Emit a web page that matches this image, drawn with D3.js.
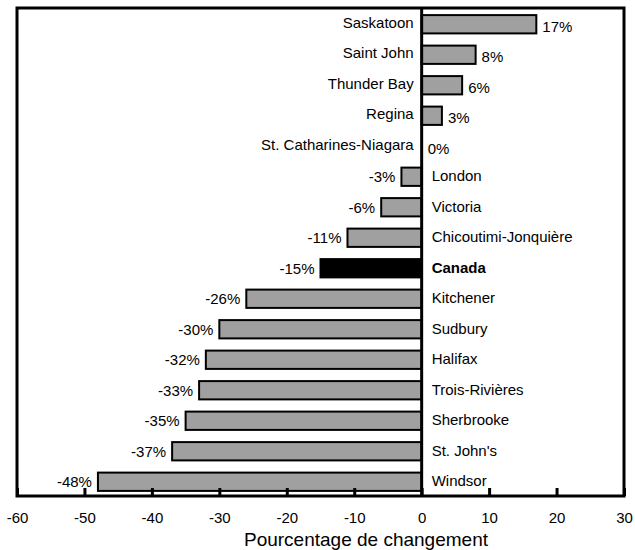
<!DOCTYPE html>
<html>
<head>
<meta charset="utf-8">
<script src="https://cdn.jsdelivr.net/npm/d3@7"></script>
<style>
  html, body { margin: 0; padding: 0; background: #fff; }
  svg { display: block; font-family: "Liberation Sans", Arial, sans-serif; }
</style>
</head>
<body>
<svg id="chart" width="635" height="550"></svg>
<script>
// Population change by census metropolitan area (percent)
const categories = [
  "Saskatoon", "Saint John", "Thunder Bay", "Regina", "St. Catharines-Niagara",
  "London", "Victoria", "Chicoutimi-Jonquière", "Canada", "Kitchener",
  "Sudbury", "Halifax", "Trois-Rivières", "Sherbrooke", "St. John's", "Windsor"
];
const values = [17, 8, 6, 3, 0, -3, -6, -11, -15, -26, -30, -32, -33, -35, -37, -48];
const highlight = "Canada";
const xTicks = [-60, -50, -40, -30, -20, -10, 0, 10, 20, 30];
const xTitle = "Pourcentage de changement";

const data = categories.map((c, i) => ({ name: c, value: values[i] }));

const plot = { left: 17, right: 624, top: 8, bottom: 496 };

const svg = d3.select("#chart");

const x = d3.scaleLinear().domain([-60, 30]).range([plot.left, plot.right]);
const y = d3.scaleBand()
  .domain(categories)
  .range([plot.top + 1, plot.bottom + 1])
  .paddingInner(0.4)
  .paddingOuter(0.2);

const x0 = x(0);

// bars
svg.append("g")
  .selectAll("rect")
  .data(data)
  .join("rect")
  .attr("x", d => x(Math.min(0, d.value)))
  .attr("y", d => y(d.name))
  .attr("width", d => Math.abs(x(d.value) - x0))
  .attr("height", y.bandwidth())
  .attr("fill", d => d.name === highlight ? "#000" : "#a0a0a0")
  .attr("stroke", "#000")
  .attr("stroke-width", 2);

// value labels at the bar ends
svg.append("g")
  .selectAll("text")
  .data(data)
  .join("text")
  .attr("x", d => d.value >= 0 ? x(d.value) + 6 : x(d.value) - 6)
  .attr("y", d => y(d.name) + y.bandwidth() / 2 + (d.value >= 0 ? 2 : 0))
  .attr("dy", "0.35em")
  .attr("text-anchor", d => d.value >= 0 ? "start" : "end")
  .attr("font-size", 15)
  .attr("fill", "#000")
  .text(d => d.value + "%");

// category labels on the opposite side of the zero line
svg.append("g")
  .selectAll("text")
  .data(data)
  .join("text")
  .attr("x", d => d.value >= 0 ? x0 - 8 : x0 + 10)
  .attr("y", d => y(d.name) + y.bandwidth() / 2 + (d.value >= 0 ? -2 : -1))
  .attr("dy", "0.35em")
  .attr("text-anchor", d => d.value >= 0 ? "end" : "start")
  .attr("font-size", 15)
  .attr("font-weight", d => d.name === highlight ? "bold" : "normal")
  .attr("fill", "#000")
  .text(d => d.name);

// zero line
svg.append("line")
  .attr("x1", x0).attr("x2", x0)
  .attr("y1", plot.top).attr("y2", plot.bottom)
  .attr("stroke", "#000")
  .attr("stroke-width", 3);

// plot frame
svg.append("rect")
  .attr("x", plot.left)
  .attr("y", plot.top)
  .attr("width", plot.right - plot.left)
  .attr("height", plot.bottom - plot.top)
  .attr("fill", "none")
  .attr("stroke", "#000")
  .attr("stroke-width", 3);

// x axis with inward ticks
const xAxis = d3.axisBottom(x)
  .tickValues(xTicks)
  .tickFormat(d => String(d))
  .tickSizeInner(-8)
  .tickSizeOuter(0)
  .tickPadding(16);

const gx = svg.append("g")
  .attr("transform", `translate(0,${plot.bottom})`)
  .call(xAxis);
gx.select(".domain").remove();
gx.selectAll(".tick line").attr("stroke", "#000").attr("stroke-width", 3);
gx.selectAll(".tick text")
  .attr("font-size", 15)
  .attr("font-family", "Liberation Sans, Arial, sans-serif")
  .attr("fill", "#000");

// axis title
svg.append("text")
  .attr("x", 366)
  .attr("y", 546)
  .attr("text-anchor", "middle")
  .attr("font-size", 19)
  .attr("fill", "#000")
  .text(xTitle);
</script>
</body>
</html>
